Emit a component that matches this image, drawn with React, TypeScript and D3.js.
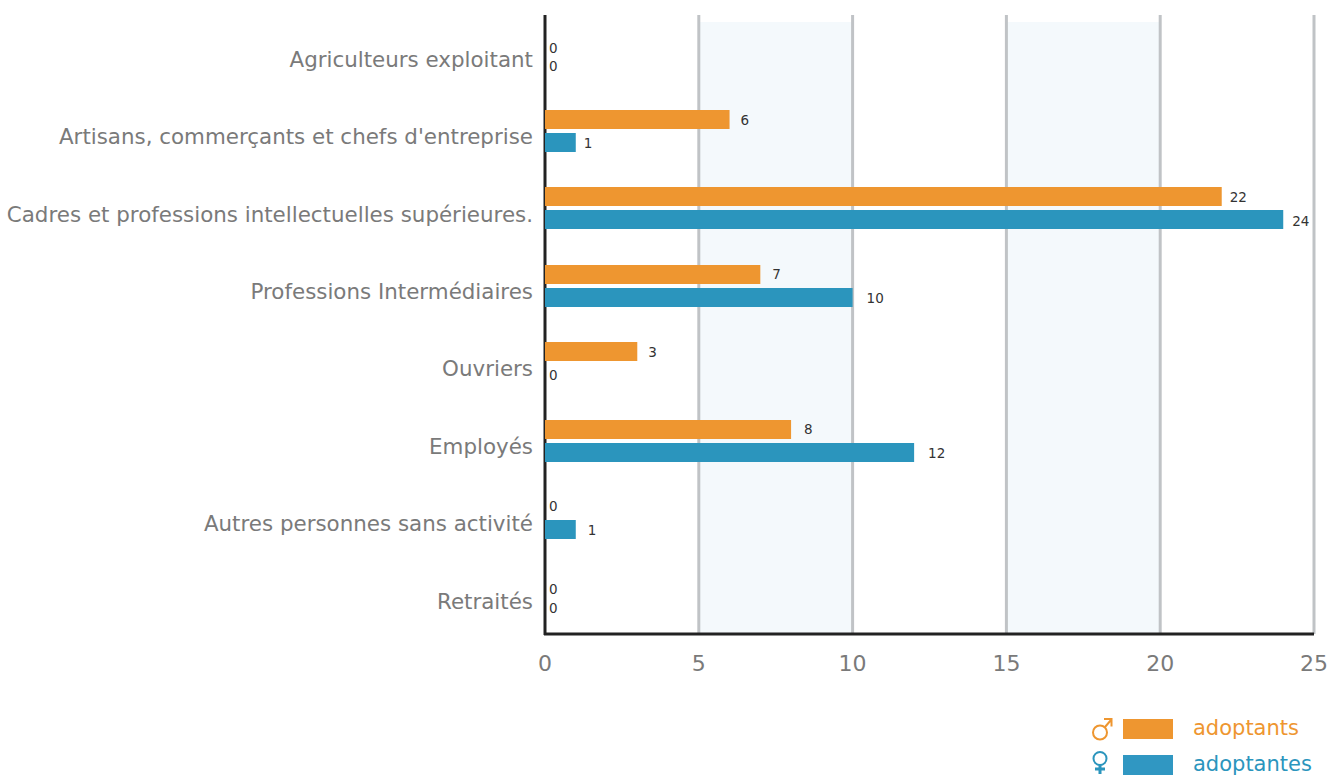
import React from "react";
import * as d3 from "d3";

const categories = [
  "Agriculteurs exploitant",
  "Artisans, commerçants et chefs d'entreprise",
  "Cadres et professions intellectuelles supérieures.",
  "Professions Intermédiaires",
  "Ouvriers",
  "Employés",
  "Autres personnes sans activité",
  "Retraités",
];
const adoptants = [0, 6, 22, 7, 3, 8, 0, 0];
const adoptantes = [0, 1, 24, 10, 0, 12, 1, 0];
const xTicks = [0, 5, 10, 15, 20, 25];
const ORANGE = "#ee9630";
const BLUE = "#2b95bd";
const FONT = "'DejaVu Sans', sans-serif";

export default function App() {
  const x = d3.scaleLinear().domain([0, 25]).range([545, 1314]);
  const y = d3.scaleBand<string>().domain(categories).range([15, 634]);
  const h = 19;
  const catSize = 21.4;
  // horizontal gap between a bar's end and its value label, row by row
  const gapA = [4, 11, 8, 12, 11, 13, 4, 4];
  const gapB = [4, 8, 9, 14, 4, 14, 12, 4];
  return (
    <svg
      width={1342}
      height={776}
      style={{ position: "absolute", left: 0, top: 0, fontFamily: FONT }}
    >
      {[[5, 10], [15, 20]].map(([a, b]) => (
        <rect key={a} x={x(a)} y={22} width={x(b) - x(a)} height={612} fill="#f4f9fc" />
      ))}
      {xTicks.slice(1).map((t) => (
        <line key={t} x1={x(t)} x2={x(t)} y1={15} y2={634} stroke="#c0c3c6" strokeWidth={3} />
      ))}
      <line x1={x(0)} x2={x(0)} y1={15} y2={635} stroke="#222" strokeWidth={3} />
      <line x1={x(0) - 1} x2={1314} y1={634} y2={634} stroke="#222" strokeWidth={3} />
      {xTicks.map((t) => (
        <text key={t} x={x(t)} y={671} textAnchor="middle" fontSize={22} fill="#7a7a7a">
          {t}
        </text>
      ))}
      {categories.map((c, i) => {
        const cy = y(c)! + y.bandwidth() / 2;
        const bothZero = adoptants[i] === 0 && adoptantes[i] === 0;
        return (
          <g key={c}>
            <text x={533} y={cy + 13.3} textAnchor="end" fontSize={catSize} fill="#7a7a7a">
              {c}
            </text>
            {adoptants[i] > 0 && (
              <rect x={x(0)} y={Math.round(cy - 21)} width={x(adoptants[i]) - x(0)} height={h} fill={ORANGE} />
            )}
            {adoptantes[i] > 0 && (
              <rect x={x(0)} y={Math.round(cy + 2)} width={x(adoptantes[i]) - x(0)} height={h} fill={BLUE} />
            )}
            <text x={x(adoptants[i]) + gapA[i]} y={bothZero ? cy - 1 : cy - 6.5} fontSize={13.5} fill="#333">
              {adoptants[i]}
            </text>
            <text x={x(adoptantes[i]) + gapB[i]} y={cy + 17.3} fontSize={13.5} fill="#333">
              {adoptantes[i]}
            </text>
          </g>
        );
      })}

      <g fill="none" stroke={ORANGE} strokeWidth={2}>
        <circle cx={1100} cy={732.5} r={7} />
        <path d="M1105 727L1111 720M1104 719H1111.5V726.5" />
      </g>
      <rect x={1123} y={719} width={50} height={20} fill={ORANGE} />
      <text x={1193} y={735} fontSize={21} fill={ORANGE}>adoptants</text>

      <g fill="none" stroke={BLUE} strokeWidth={2}>
        <circle cx={1100} cy={758.5} r={6.5} />
        <path d="M1100 765V774M1095 769H1105" strokeWidth={3} />
      </g>
      <rect x={1123} y={755} width={50} height={20} fill="#3097c2" />
      <text x={1193} y={771} fontSize={21} fill={BLUE}>adoptantes</text>
    </svg>
  );
}
